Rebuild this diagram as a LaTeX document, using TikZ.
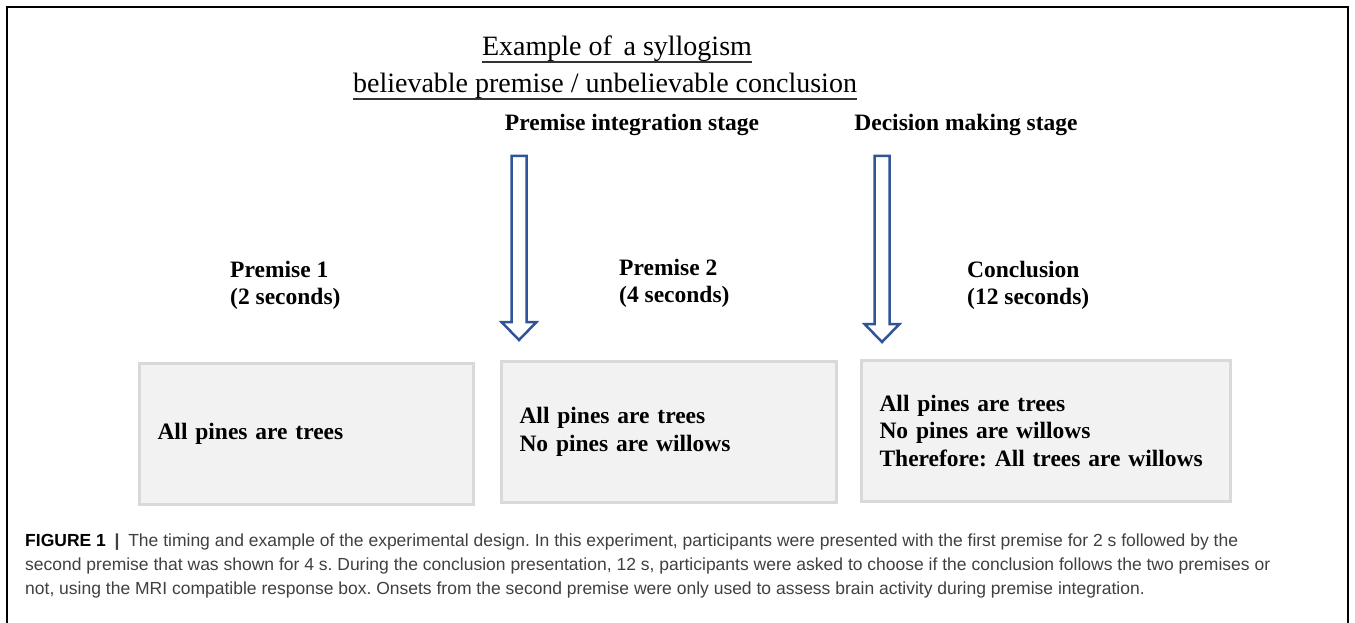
\documentclass[tikz,border=0pt]{standalone}
\usepackage{fontspec}
\setmainfont{Liberation Serif}
\setsansfont{Liberation Sans}
\frenchspacing
\usetikzlibrary{positioning}
\definecolor{arrowblue}{HTML}{2F5597}
\definecolor{boxfill}{HTML}{F2F2F2}
\definecolor{boxline}{HTML}{D9D9D9}
\definecolor{captext}{HTML}{404040}
\tikzset{heading/.style={font=\fontsize{28}{32}\selectfont,inner sep=0pt,anchor=base},stagelabel/.style={font=\fontsize{23.5}{27}\selectfont\bfseries,inner sep=0pt,anchor=base},timelabel/.style={font=\fontsize{23.5}{27}\selectfont\bfseries,align=left,inner sep=0pt,anchor=north west},trialbox/.style={draw=boxline,fill=boxfill,line width=3pt,minimum height=141pt,anchor=north west,font=\fontsize{23.5}{27.5}\selectfont\bfseries,align=left,inner xsep=18pt},stagearrow/.style={draw=arrowblue,fill=white,line width=2.5pt},capnode/.style={font=\sffamily\fontsize{17.5}{24}\selectfont,color=captext,align=left,anchor=north west,inner sep=0pt}}

\begin{document}
\begin{tikzpicture}[x=1pt,y=-1pt]
\useasboundingbox (0,0) rectangle (1355,623);
\draw[line width=1.5pt] (7,623)--(7,7)--(1348,7)--(1348,623);
% headings
\node[heading] (title) at (617,56) {Example of\, a syllogism};
\node[heading] (subtitle) at (605,93) {believable premise / unbelievable conclusion};
\draw[line width=1.2pt,black!80] ([yshift=-6pt]title.base west)--([yshift=-6pt]title.base east);
\draw[line width=1.2pt,black!80] ([yshift=-6pt]subtitle.base west)--([yshift=-6pt]subtitle.base east);
\node[stagelabel] (integ) at (632,131) {Premise integration stage};
\node[stagelabel] (decis) at (966,131) {Decision making stage};
% block arrows
\coordinate (integtop) at (519,156);\coordinate (decistop) at (882,156);
\draw[stagearrow] ([xshift=-7.5pt]integtop)--++(15,0)--++(0,166)--++(10,0)--++(-17.5,18)--++(-17.5,-18)--++(10,0)--cycle;
\draw[stagearrow] ([xshift=-7.5pt]decistop)--++(15,0)--++(0,168)--++(10,0)--++(-17.5,18)--++(-17.5,-18)--++(10,0)--cycle;
\node[timelabel] (first) at (230,261) {Premise 1\\(2 seconds)};
\node[timelabel] (second) at (619,259) {Premise 2\\(4 seconds)};
\node[timelabel] (concl) at (967,261) {Conclusion\\(12 seconds)};
% trial screens
\node[trialbox,text width=298pt] (box1) at (138,362) {All pines are trees};
\node[trialbox,text width=299pt] (box2) at (500,360) {All pines are trees\\No pines are willows};
\node[trialbox,text width=333pt] (box3) at (860,359) {All pines are trees\\No pines are willows\\Therefore: All trees are willows};
\node[capnode] (caption) at (25,534) {\textcolor{black}{\textbf{FIGURE 1}}\enspace\textbf{|}\enspace The timing and example of the experimental design. In this experiment, participants were presented with the first premise for 2 s followed by the\\second premise that was shown for 4 s. During the conclusion presentation, 12 s, participants were asked to choose if the conclusion follows the two premises or\\not, using the MRI compatible response box. Onsets from the second premise were only used to assess brain activity during premise integration.};
\end{tikzpicture}
\end{document}
